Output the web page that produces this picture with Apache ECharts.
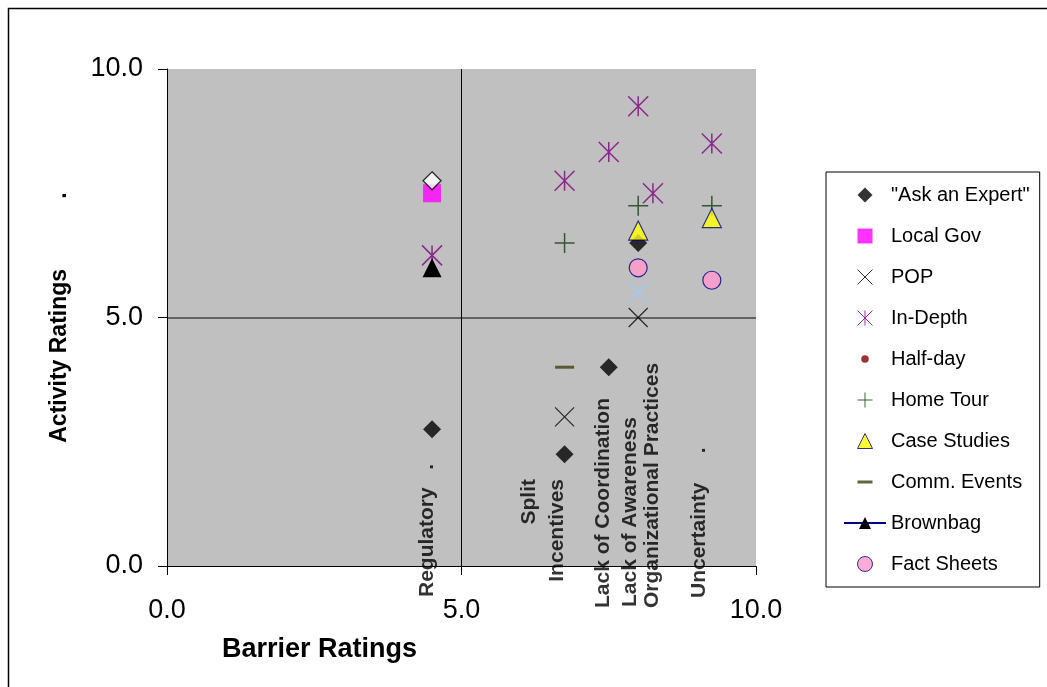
<!DOCTYPE html>
<html>
<head>
<meta charset="utf-8">
<script src="https://cdn.jsdelivr.net/npm/echarts@6/dist/echarts.min.js"></script>
<style>
html,body{margin:0;padding:0;background:#fff;}
#chart{width:1047px;height:687px;}
</style>
</head>
<body>
<div id="chart"></div>
<script>
// ---- data ----
const barrierLabels = ['Regulatory   .', 'Split\nIncentives', 'Lack of Coordination', 'Lack of Awareness', 'Organizational Practices', 'Uncertainty     .'];
const barrierX = [4.5, 6.75, 7.5, 8.0, 8.25, 9.25];
const axisTicks = [0, 5, 10];

const seriesNames = ['"Ask an Expert"', 'Local Gov', 'POP', 'In-Depth', 'Half-day', 'Home Tour', 'Case Studies', 'Comm. Events', 'Brownbag', 'Fact Sheets'];
const askExpert = [[4.5, 2.75], [6.75, 2.25], [7.5, 4.0], [8.0, 6.5]];
const localGov = [[4.5, 7.5]];
const pop = [[6.75, 3.0], [8.0, 5.0]];
const inDepth = [[4.5, 6.25], [6.75, 7.75], [7.5, 8.33], [8.0, 9.25], [8.25, 7.5], [9.25, 8.5]];
const halfDay = [];
const homeTour = [[6.75, 6.5], [8.0, 7.25], [9.25, 7.25]];
const caseStudies = [[8.0, 6.75], [9.25, 7.0]];
const commEvents = [[6.75, 4.0]];
const brownbag = [[4.5, 6.0]];
const factSheets = [[8.0, 6.0], [9.25, 5.75]];
const extraDiamond = [[4.5, 7.75]];
const extraCross = [[8.0, 5.5]];

// ---- styling helpers ----
const FONT = "'Liberation Sans', Arial, sans-serif";
const CROSS = 'path://M0,0L10,10M10,0L0,10';
const STAR = 'path://M0,0L10,10M10,0L0,10M5,0L5,10';
const PLUS = 'path://M5,0L5,10M0,5L10,5';
const DASH = 'path://M0,0H10V2H0Z';
const DOT = 'path://M0,0L0.01,0M10,10L10.01,10M5,2.5A2.5,2.5 0 1 1 5,7.5A2.5,2.5 0 1 1 5,2.5Z';
// square-bbox legend icons
const ICON_DIAMOND = 'path://M5,0L10,5L5,10L0,5Z';
const ICON_RECT = 'path://M0.5,0.5H9.5V9.5H0.5Z';
const ICON_TRI = 'path://M5,0L10,10L0,10Z';
const ICON_DASH = 'path://M0,0L0.01,0M0,10L0.01,10M0,4H10V6H0Z';
const CLEAR = 'rgba(0,0,0,0)';

// label placement tweaks (style only)
const labelTweaks = [
  {align: 'left', offset: [-31, -5]},
  {align: 'right', offset: [87, -21]},
  {align: 'left', offset: [-42, -6]},
  {align: 'left', offset: [-41, -8]},
  {align: 'left', offset: [-42, -1]},
  {align: 'left', offset: [-32, -13]}
];

function scatter(name, data, opts) {
  return Object.assign({type: 'scatter', name: name, data: data, z: 3}, opts);
}

const series = [
  scatter(seriesNames[0], askExpert, {symbol: 'diamond', symbolSize: 18, itemStyle: {color: '#000'}}),
  scatter(seriesNames[1], localGov, {symbol: 'rect', symbolSize: 18, itemStyle: {color: '#ff00ff'}}),
  scatter(seriesNames[2], pop, {symbol: CROSS, symbolSize: 19, itemStyle: {color: CLEAR, borderColor: '#000', borderWidth: 1.2}}),
  scatter(seriesNames[3], inDepth, {symbol: STAR, symbolSize: 20, itemStyle: {color: CLEAR, borderColor: '#800080', borderWidth: 1.5}}),
  scatter(seriesNames[4], halfDay, {symbol: DOT, symbolSize: 14, itemStyle: {color: '#800000'}}),
  scatter(seriesNames[5], homeTour, {symbol: PLUS, symbolSize: 20, itemStyle: {color: CLEAR, borderColor: '#0f3d0f', borderWidth: 1.5}}),
  scatter(seriesNames[6], caseStudies, {symbol: 'triangle', symbolSize: 19, itemStyle: {color: '#ffff00', borderColor: '#000080', borderWidth: 1.2}}),
  scatter(seriesNames[7], commEvents, {symbol: DASH, symbolSize: [19, 3], itemStyle: {color: '#403d10'}}),
  {type: 'line', name: seriesNames[8], data: brownbag, symbol: 'triangle', symbolSize: 19, showSymbol: true,
   itemStyle: {color: '#000'}, lineStyle: {color: '#000080', width: 1}, z: 3},
  scatter(seriesNames[9], factSheets, {symbol: 'circle', symbolSize: 18, itemStyle: {color: '#ff99cc', borderColor: '#000080', borderWidth: 1.2}}),
  scatter('extra-diamond', extraDiamond, {symbol: 'diamond', symbolSize: 18, itemStyle: {color: '#fff', borderColor: '#000', borderWidth: 1.3}}),
  scatter('extra-cross', extraCross, {symbol: CROSS, symbolSize: 19, itemStyle: {color: CLEAR, borderColor: '#99ccff', borderWidth: 1.5}}),
  {
    type: 'scatter', name: 'barrier-labels', silent: true, symbolSize: 1, z: 4,
    itemStyle: {color: CLEAR},
    data: barrierX.map((x, i) => ({
      value: [x, 0], name: barrierLabels[i],
      label: Object.assign({
        show: true, position: 'inside', rotate: 90, verticalAlign: 'middle',
        formatter: '{b}', color: '#000', fontFamily: FONT, fontWeight: 'bold', fontSize: 21, lineHeight: 28
      }, labelTweaks[i])
    }))
  }
];

const legendIcons = {'"Ask an Expert"': ICON_DIAMOND, 'Local Gov': ICON_RECT, 'Case Studies': ICON_TRI, 'Comm. Events': ICON_DASH};
const legendData = seriesNames.map(n => {
  const item = {name: n};
  if (legendIcons[n]) item.icon = legendIcons[n];
  if (['POP', 'In-Depth', 'Home Tour', 'Case Studies', 'Fact Sheets'].indexOf(n) >= 0) {
    item.itemStyle = {borderWidth: 1};
  }
  return item;
});

const chart = echarts.init(document.getElementById('chart'), null, {renderer: 'canvas'});
chart.setOption({
  animation: false,
  backgroundColor: '#fff',
  textStyle: {fontFamily: FONT},
  graphic: [{
    type: 'rect', z: -10, silent: true,
    shape: {x: 8.5, y: 8.5, width: 1060, height: 700},
    style: {fill: '#fff', stroke: '#000', lineWidth: 1.5}
  }],
  title: {
    text: 'Barrier Ratings', left: 222, top: 636, padding: 0,
    textStyle: {fontFamily: FONT, fontWeight: 'bold', fontSize: 27, color: '#000'}
  },
  grid: {
    left: 167, top: 69, width: 589, height: 497,
    show: true, backgroundColor: '#c0c0c0', borderWidth: 0,
    containLabel: false, outerBoundsMode: 'none'
  },
  legend: {
    orient: 'vertical', left: 826, top: 172,
    padding: [13, 10, 13, 17],
    borderColor: '#000', borderWidth: 1, backgroundColor: '#fff',
    itemWidth: 42, itemHeight: 15, itemGap: 21,
    symbolKeepAspect: true,
    textStyle: {fontFamily: FONT, fontSize: 20, lineHeight: 20, color: '#000'},
    data: legendData,
    selectedMode: false
  },
  xAxis: {
    type: 'value', min: axisTicks[0], max: axisTicks[2], interval: 5,
    axisLine: {show: true, onZero: false, lineStyle: {color: '#000', width: 1}},
    axisTick: {show: true, length: 9, lineStyle: {color: '#000'}},
    axisLabel: {fontFamily: FONT, fontSize: 27, color: '#000', margin: 31, formatter: v => v.toFixed(1)},
    splitLine: {show: true, lineStyle: {color: [CLEAR, '#000', CLEAR], width: 1}}
  },
  yAxis: {
    type: 'value', min: axisTicks[0], max: axisTicks[2], interval: 5,
    name: 'Activity Ratings           .', nameLocation: 'middle', nameRotate: 90, nameGap: 96,
    nameTextStyle: {fontFamily: FONT, fontWeight: 'bold', fontSize: 23, color: '#000'},
    axisLine: {show: true, onZero: false, lineStyle: {color: '#000', width: 1}},
    axisTick: {show: true, length: 9, lineStyle: {color: '#000'}},
    axisLabel: {fontFamily: FONT, fontSize: 27, color: '#000', margin: 24, formatter: v => v.toFixed(1)},
    splitLine: {show: true, lineStyle: {color: [CLEAR, '#444', CLEAR], width: 1.5}}
  },
  series: series
});
</script>
</body>
</html>
